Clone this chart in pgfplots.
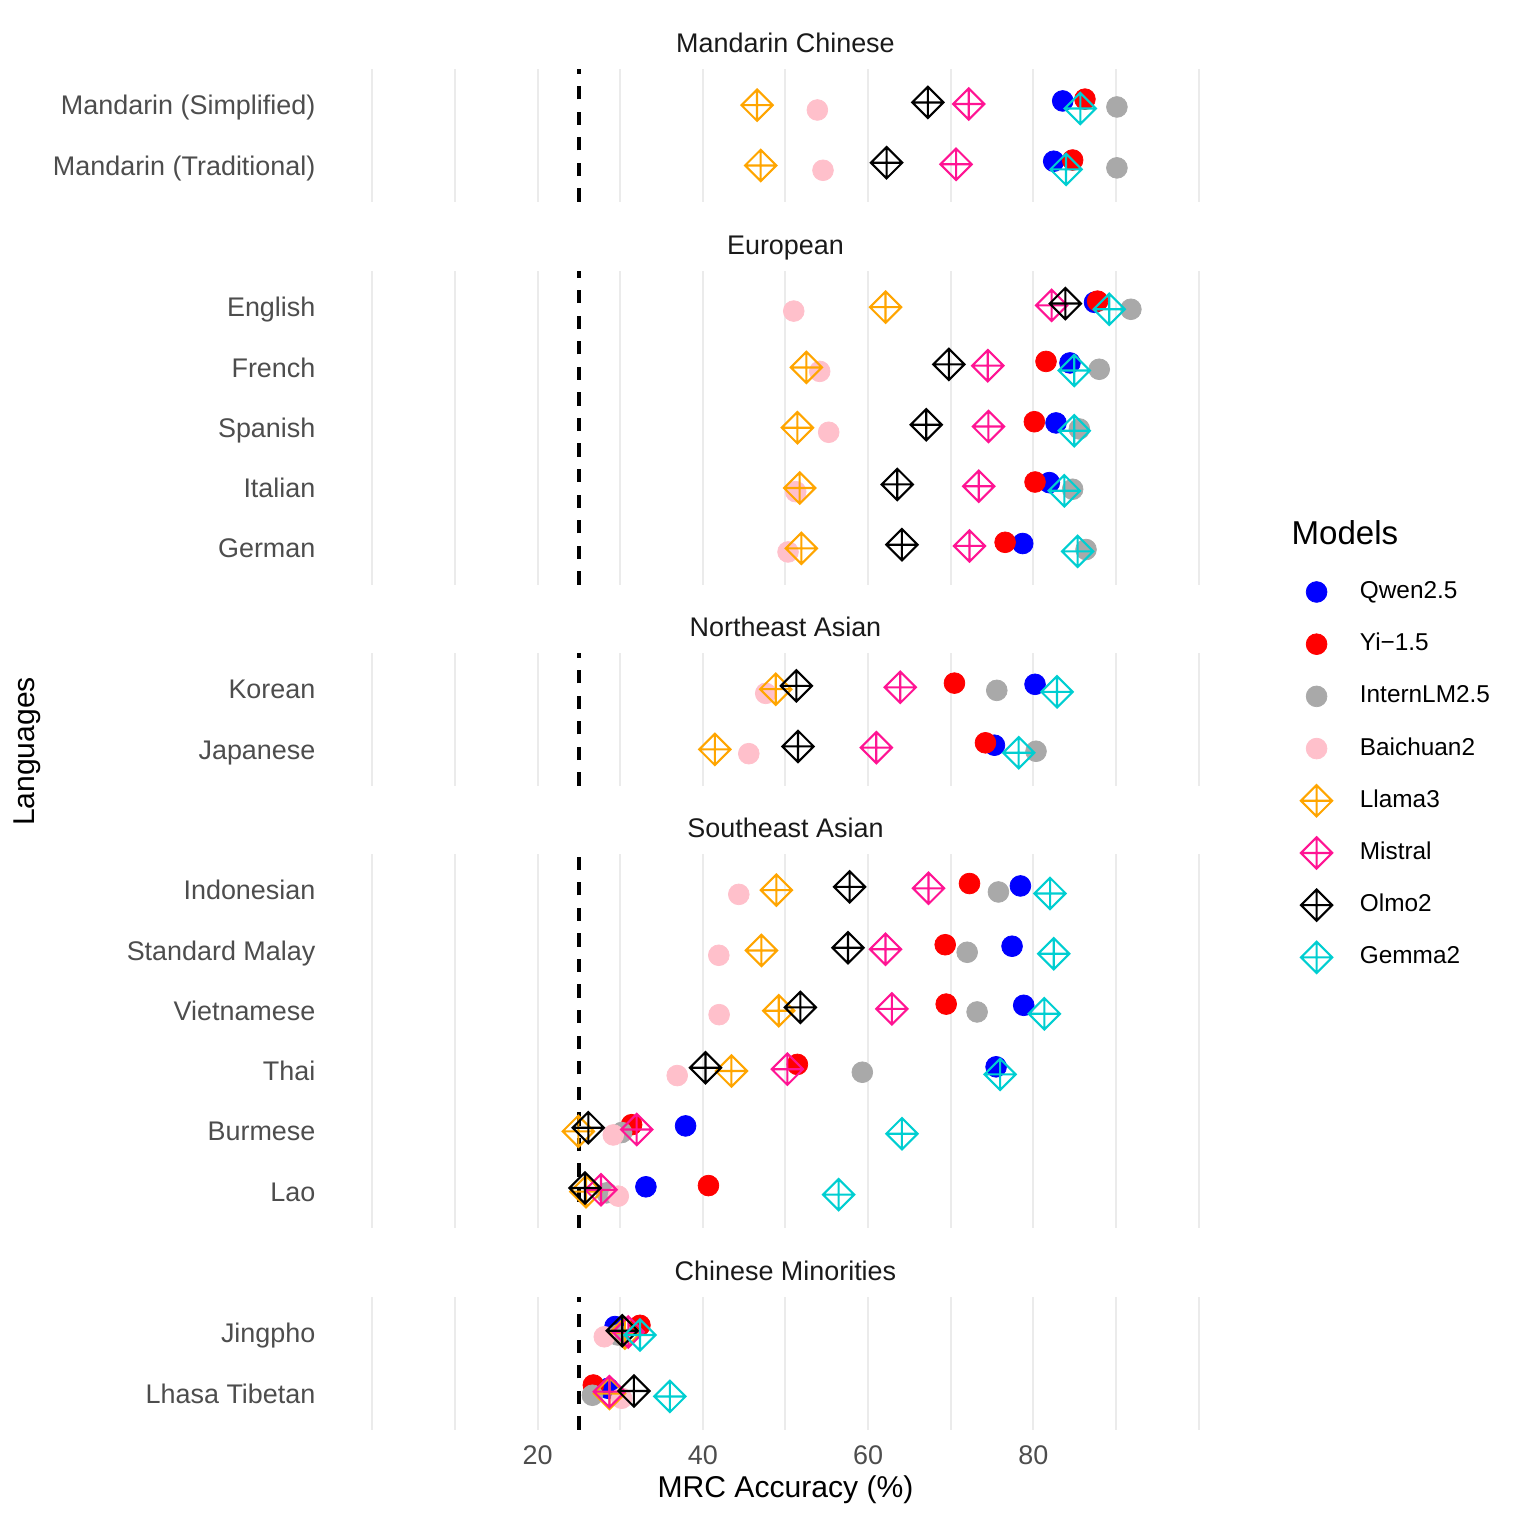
\documentclass[border=0pt]{standalone}
\usepackage{fontspec}
\setmainfont{Liberation Sans}
\usepackage{pgfplots}
\pgfplotsset{compat=1.18}

\definecolor{qwen}{RGB}{0,0,255}
\definecolor{yi}{RGB}{255,0,0}
\definecolor{intern}{RGB}{169,169,169}
\definecolor{baich}{RGB}{255,192,203}
\definecolor{llama}{RGB}{255,165,0}
\definecolor{mistral}{RGB}{255,20,147}
\definecolor{olmo}{RGB}{0,0,0}
\definecolor{gemma}{RGB}{0,206,209}
\definecolor{gridc}{RGB}{235,235,235}
\definecolor{gray30}{RGB}{77,77,77}
\definecolor{gray10}{RGB}{26,26,26}

% diamond with a cross inside (ggplot shape 9)
\pgfdeclareplotmark{dplus}{%
  \pgfpathmoveto{\pgfqpoint{0pt}{\pgfplotmarksize}}%
  \pgfpathlineto{\pgfqpoint{\pgfplotmarksize}{0pt}}%
  \pgfpathlineto{\pgfqpoint{0pt}{-\pgfplotmarksize}}%
  \pgfpathlineto{\pgfqpoint{-\pgfplotmarksize}{0pt}}%
  \pgfpathclose
  \pgfpathmoveto{\pgfqpoint{0pt}{\pgfplotmarksize}}%
  \pgfpathlineto{\pgfqpoint{0pt}{-\pgfplotmarksize}}%
  \pgfpathmoveto{\pgfqpoint{\pgfplotmarksize}{0pt}}%
  \pgfpathlineto{\pgfqpoint{-\pgfplotmarksize}{0pt}}%
  \pgfusepathqstroke}

\newcommand{\ts}{\fontsize{8.95}{10.5}\selectfont}
\newcommand{\tg}{\fontsize{8.1}{10}\selectfont}
\newcommand{\tl}{\fontsize{10}{12}\selectfont}

\pgfplotsset{
  dot/.style={only marks, mark=*, mark size=3.45pt, mark options={draw=#1, fill=#1, line width=0.25pt}},
  dia/.style={only marks, mark=dplus, mark size=5.2pt, mark options={draw=#1, line width=0.7pt, solid}},
  sQwen/.style={dot=qwen}, sYi/.style={dot=yi}, sIntern/.style={dot=intern}, sBai/.style={dot=baich},
  sLlama/.style={dia=llama}, sMistral/.style={dia=mistral}, sOlmo/.style={dia=olmo}, sGemma/.style={dia=gemma},
  chance/.style={black, line width=1.1pt, dash pattern=on 4.4pt off 4.1pt, forget plot},
  legend image code/.code={\draw[#1] plot coordinates {(0pt,0pt)};},
  panel/.style={
    scale only axis, width=302.13pt,
    xmin=-5, xmax=105, y dir=reverse,
    axis line style={draw=none}, major tick length=0pt,
    xtick={0,10,...,100}, xticklabels={},
    xmajorgrids, grid style={gridc, line width=0.66pt},
    ytick distance=1,
    yticklabel style={font=\ts, text=gray30, anchor=east, inner sep=0pt, xshift=-5pt,
      text height=6.4pt, text depth=0pt},
    title style={font=\ts, text=gray10, anchor=base, inner sep=0pt, yshift=-0.5pt},
    clip=false,
  },
}

\begin{document}
\begin{tikzpicture}
\path[use as bounding box] (0pt,0pt) rectangle (505.9pt,-505.9pt);

% ---------- Mandarin Chinese
\begin{axis}[panel, at={(110.02pt,-22.93pt)}, anchor=north west, height=44.09pt,
  ymin=0.4, ymax=2.6, title={Mandarin Chinese},
  ytick={1,2}, yticklabels={Mandarin (Simplified),Mandarin (Traditional)}]
\addplot[chance] coordinates {(25,2.6) (25,0.4)};
\addplot[sQwen] coordinates {(83.55,0.93) (82.46,1.93)};
\addplot[sYi] coordinates {(86.24,0.90) (84.75,1.91)};
\addplot[sIntern] coordinates {(90.11,1.03) (90.11,2.04)};
\addplot[sBai] coordinates {(53.86,1.08) (54.54,2.08)};
\addplot[sLlama] coordinates {(46.56,1.00) (47.00,2.00)};
\addplot[sMistral] coordinates {(72.18,0.98) (70.65,1.98)};
\addplot[sOlmo] coordinates {(67.23,0.955) (62.24,1.955)};
\addplot[sGemma] coordinates {(85.68,1.055) (83.95,2.065)};
\end{axis}

% ---------- European
\begin{axis}[panel, at={(110.02pt,-90.07pt)}, anchor=north west, height=104.22pt,
  ymin=0.4, ymax=5.6, title={European},
  ytick={1,...,5}, yticklabels={English,French,Spanish,Italian,German}]
\addplot[chance] coordinates {(25,5.6) (25,0.4)};
\addplot[sQwen] coordinates {(87.40,0.92) (84.43,1.925) (82.74,2.92) (81.93,3.91) (78.71,4.92)};
\addplot[sYi] coordinates {(87.77,0.90) (81.53,1.90) (80.12,2.90) (80.20,3.90) (76.58,4.90)};
\addplot[sIntern] coordinates {(91.80,1.035) (87.97,2.03) (85.56,3.02) (84.75,4.02) (86.37,5.02)};
\addplot[sBai] coordinates {(51.00,1.065) (54.14,2.065) (55.23,3.075) (51.24,4.06) (50.31,5.06)};
\addplot[sLlama] coordinates {(62.11,1.00) (52.53,2.00) (51.44,3.00) (51.72,4.00) (51.92,5.00)};
\addplot[sMistral] coordinates {(82.21,0.97) (74.48,1.97) (74.56,2.98) (73.39,3.97) (72.27,4.96)};
\addplot[sOlmo] coordinates {(83.87,0.94) (69.77,1.95) (67.03,2.95) (63.53,3.94) (64.09,4.94)};
\addplot[sGemma] coordinates {(89.18,1.035) (84.95,2.05) (84.95,3.05) (83.75,4.045) (85.36,5.05)};
\end{axis}

% ---------- Northeast Asian (carries the legend)
\begin{axis}[panel, at={(110.02pt,-217.04pt)}, anchor=north west, height=44.09pt,
  ymin=0.4, ymax=2.6, title={Northeast Asian},
  ytick={1,2}, yticklabels={Korean,Japanese},
  legend cell align=left,
  legend style={at={(1.0671,1.6566)}, anchor=north west, draw=none, fill=none,
    inner sep=0pt, outer sep=0pt, row sep=0pt, column sep=9.2pt,
    nodes={inner sep=0pt, minimum height=17.35pt, font=\tg, text=black}}]
\addplot[chance] coordinates {(25,2.6) (25,0.4)};
\addplot[sQwen] coordinates {(80.20,0.92) (75.29,1.93)};
\addlegendentry{Qwen2.5}
\addplot[sYi] coordinates {(70.45,0.90) (74.20,1.89)};
\addlegendentry{Yi−1.5}
\addplot[sIntern] coordinates {(75.57,1.02) (80.32,2.03)};
\addlegendentry{InternLM2.5}
\addplot[sBai] coordinates {(47.61,1.07) (45.56,2.07)};
\addlegendentry{Baichuan2}
\addplot[sLlama] coordinates {(48.82,1.00) (41.45,2.00)};
\addlegendentry{Llama3}
\addplot[sMistral] coordinates {(63.89,0.97) (60.99,1.97)};
\addlegendentry{Mistral}
\addplot[sOlmo] coordinates {(51.32,0.945) (51.52,1.95)};
\addlegendentry{Olmo2}
\addplot[sGemma] coordinates {(82.86,1.045) (78.22,2.055)};
\addlegendentry{Gemma2}
\end{axis}

% ---------- Southeast Asian
\begin{axis}[panel, at={(110.02pt,-283.85pt)}, anchor=north west, height=124.26pt,
  ymin=0.4, ymax=6.6, title={Southeast Asian},
  ytick={1,...,6}, yticklabels={Indonesian,Standard Malay,Vietnamese,Thai,Burmese,Lao}]
\addplot[chance] coordinates {(25,6.6) (25,0.4)};
\addplot[sQwen] coordinates {(78.43,0.93) (77.42,1.93) (78.83,2.91) (75.49,3.93) (37.91,4.91) (33.11,5.92)};
\addplot[sYi] coordinates {(72.27,0.89) (69.33,1.905) (69.45,2.89) (51.44,3.89) (31.38,4.89) (40.68,5.90)};
\addplot[sIntern] coordinates {(75.77,1.03) (71.99,2.03) (73.19,3.02) (59.30,4.02) (30.17,5.02) (28.36,6.02)};
\addplot[sBai] coordinates {(44.35,1.07) (41.93,2.08) (41.97,3.065) (36.90,4.075) (29.16,5.06) (29.77,6.075)};
\addplot[sLlama] coordinates {(48.90,1.00) (47.09,2.00) (49.18,3.00) (43.46,4.00) (24.93,5.00) (25.86,6.00)};
\addplot[sMistral] coordinates {(67.31,0.97) (62.11,1.98) (62.88,2.97) (50.23,3.97) (31.99,4.97) (27.67,5.97)};
\addplot[sOlmo] coordinates {(57.76,0.945) (57.56,1.955) (51.80,2.945) (40.32,3.945) (26.14,4.94) (25.74,5.94)};
\addplot[sGemma] coordinates {(82.02,1.055) (82.46,2.055) (81.33,3.05) (75.97,4.055) (64.09,5.04) (56.44,6.05)};
\end{axis}

% ---------- Chinese Minorities
\begin{axis}[panel, at={(110.02pt,-431.10pt)}, anchor=north west, height=44.09pt,
  ymin=0.4, ymax=2.6, title={Chinese Minorities},
  ytick={1,2}, yticklabels={Jingpho,Lhasa Tibetan},
  xticklabels={,,20,,40,,60,,80,,},
  xticklabel style={font=\ts, text=gray30, anchor=north, inner sep=0pt, yshift=-5.1pt}]
\addplot[chance] coordinates {(25,2.6) (25,0.4)};
\addplot[sQwen] coordinates {(29.37,0.89) (28.56,1.915)};
\addplot[sYi] coordinates {(32.39,0.87) (26.75,1.86)};
\addplot[sIntern] coordinates {(29.70,1.03) (26.63,2.03)};
\addplot[sBai] coordinates {(28.07,1.06) (30.17,2.08)};
\addplot[sLlama] coordinates {(30.57,1.00) (28.70,2.00)};
\addplot[sMistral] coordinates {(30.98,0.98) (28.68,1.97)};
\addplot[sOlmo] coordinates {(30.25,0.96) (31.66,1.96)};
\addplot[sGemma] coordinates {(32.39,1.03) (36.01,2.05)};
\end{axis}

% titles
\node[font=\tl, anchor=base] at (261.09pt,-497.9pt) {MRC Accuracy (\%)};
\node[font=\tl, rotate=90, anchor=base] at (11.63pt,-249.8pt) {Languages};
\node[font=\fontsize{11}{13}\selectfont, anchor=base west, inner sep=0pt] at (429.1pt,-181.15pt) {Models};
\end{tikzpicture}
\end{document}
